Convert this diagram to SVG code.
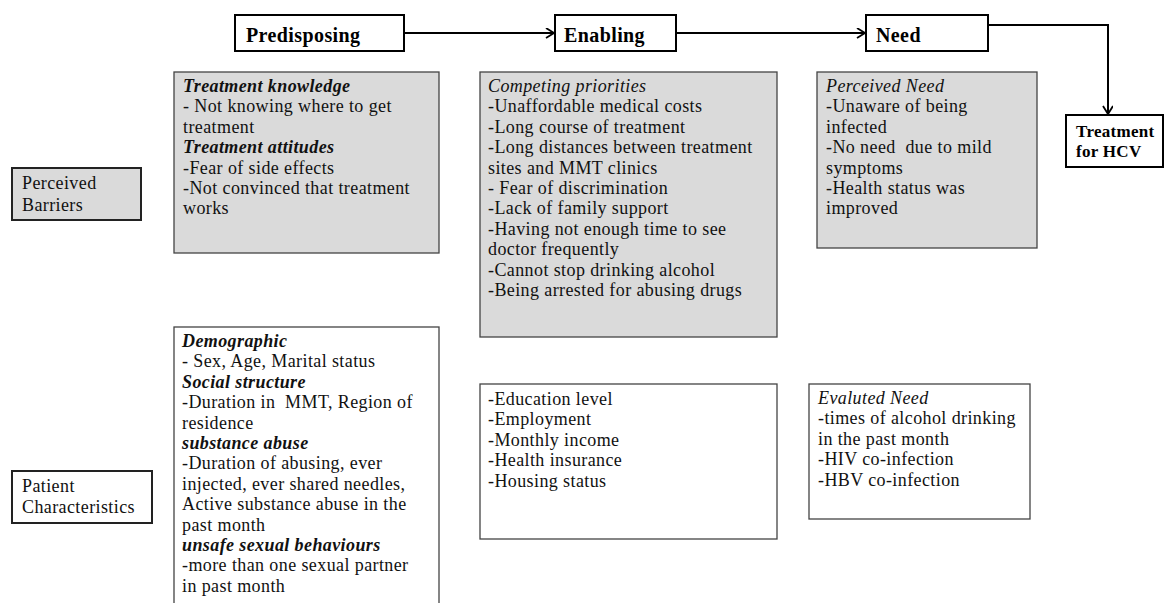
<svg xmlns="http://www.w3.org/2000/svg" width="1164" height="603" viewBox="0 0 1164 603">
<defs>
<style>
.t{font-family:"Liberation Serif","Times New Roman",serif;font-size:18px;fill:#111;letter-spacing:0.4px;white-space:pre}
.h{font-style:italic;font-weight:bold}
.i{font-style:italic}
.top{font-family:"Liberation Serif","Times New Roman",serif;font-size:20px;font-weight:bold;fill:#000;letter-spacing:0.4px}
.tb{font-family:"Liberation Serif","Times New Roman",serif;font-size:17px;font-weight:bold;fill:#000;letter-spacing:0.3px}
.gray{fill:#dadada;stroke:#444;stroke-width:1.3}
.white{fill:#fff;stroke:#444;stroke-width:1.3}
.hdr{fill:#fff;stroke:#000;stroke-width:2}
.lbl{fill:#dadada;stroke:#222;stroke-width:2}
.lblw{fill:#fff;stroke:#222;stroke-width:2}
.conn{fill:none;stroke:#000;stroke-width:2}
</style>
<marker id="arr" markerWidth="12" markerHeight="12" refX="9" refY="5" orient="auto" markerUnits="userSpaceOnUse">
<path d="M1,0 L9,5 L1,10" fill="none" stroke="#000" stroke-width="1.8"/>
</marker>
</defs>
<rect width="1164" height="603" fill="#fff"/>

<g id="connectors">
<line class="conn" x1="404" y1="33" x2="554" y2="33" marker-end="url(#arr)"/>
<line class="conn" x1="676" y1="33" x2="865" y2="33" marker-end="url(#arr)"/>
<polyline class="conn" points="988,25 1108,25 1108,114" marker-end="url(#arr)"/>
</g>

<g id="predisposing">
<rect class="hdr" x="235" y="15" width="169" height="36"/>
<text class="top" x="246" y="42">Predisposing</text>
</g>
<g id="enabling">
<rect class="hdr" x="555" y="15" width="121" height="36"/>
<text class="top" x="564" y="42">Enabling</text>
</g>
<g id="need">
<rect class="hdr" x="866" y="15" width="122" height="36"/>
<text class="top" x="876" y="42">Need</text>
</g>
<g id="treatment">
<rect class="hdr" x="1066" y="115" width="97" height="52"/>
<text class="tb" x="1076" y="137">Treatment</text>
<text class="tb" x="1076" y="157">for HCV</text>
</g>

<g id="perceived-barriers">
<rect class="lbl" x="12" y="168" width="129" height="52"/>
<text class="t" x="22" y="189">Perceived</text>
<text class="t" x="22" y="211">Barriers</text>
</g>
<g id="patient-characteristics">
<rect class="lblw" x="12" y="471" width="140" height="52"/>
<text class="t" x="22" y="492">Patient</text>
<text class="t" x="22" y="513">Characteristics</text>
</g>

<g id="predisposing-barriers">
<rect class="gray" x="174" y="72" width="265" height="181"/>
<text class="t h" x="183" y="92">Treatment knowledge</text>
<text class="t" x="183" y="112.4">- Not knowing where to get</text>
<text class="t" x="183" y="132.8">treatment</text>
<text class="t h" x="183" y="153.2">Treatment attitudes</text>
<text class="t" x="183" y="173.6">-Fear of side effects</text>
<text class="t" x="183" y="194">-Not convinced that treatment</text>
<text class="t" x="183" y="214.4">works</text>
</g>

<g id="enabling-barriers">
<rect class="gray" x="480" y="72" width="297" height="265"/>
<text class="t i" x="488" y="92">Competing priorities</text>
<text class="t" x="488" y="112.4">-Unaffordable medical costs</text>
<text class="t" x="488" y="132.8">-Long course of treatment</text>
<text class="t" x="488" y="153.2">-Long distances between treatment</text>
<text class="t" x="488" y="173.6">sites and MMT clinics</text>
<text class="t" x="488" y="194">- Fear of discrimination</text>
<text class="t" x="488" y="214.4">-Lack of family support</text>
<text class="t" x="488" y="234.8">-Having not enough time to see</text>
<text class="t" x="488" y="255.2">doctor frequently</text>
<text class="t" x="488" y="275.6">-Cannot stop drinking alcohol</text>
<text class="t" x="488" y="296">-Being arrested for abusing drugs</text>
</g>

<g id="need-barriers">
<rect class="gray" x="817" y="72" width="220" height="176"/>
<text class="t i" x="826" y="92">Perceived Need</text>
<text class="t" x="826" y="112.4">-Unaware of being</text>
<text class="t" x="826" y="132.8">infected</text>
<text class="t" x="826" y="153.2">-No need  due to mild</text>
<text class="t" x="826" y="173.6">symptoms</text>
<text class="t" x="826" y="194">-Health status was</text>
<text class="t" x="826" y="214.4">improved</text>
</g>

<g id="predisposing-characteristics">
<rect class="white" x="174" y="327" width="265" height="290"/>
<text class="t h" x="182" y="347">Demographic</text>
<text class="t" x="182" y="367.4">- Sex, Age, Marital status</text>
<text class="t h" x="182" y="387.8">Social structure</text>
<text class="t" x="182" y="408.2">-Duration in  MMT, Region of</text>
<text class="t" x="182" y="428.6">residence</text>
<text class="t h" x="182" y="449">substance abuse</text>
<text class="t" x="182" y="469.4">-Duration of abusing, ever</text>
<text class="t" x="182" y="489.8">injected, ever shared needles,</text>
<text class="t" x="182" y="510.2">Active substance abuse in the</text>
<text class="t" x="182" y="530.6">past month</text>
<text class="t h" x="182" y="551">unsafe sexual behaviours</text>
<text class="t" x="182" y="571.4">-more than one sexual partner</text>
<text class="t" x="182" y="591.8">in past month</text>
</g>

<g id="enabling-characteristics">
<rect class="white" x="480" y="384" width="297" height="155"/>
<text class="t" x="488" y="405">-Education level</text>
<text class="t" x="488" y="425.4">-Employment</text>
<text class="t" x="488" y="445.8">-Monthly income</text>
<text class="t" x="488" y="466.2">-Health insurance</text>
<text class="t" x="488" y="486.6">-Housing status</text>
</g>

<g id="need-characteristics">
<rect class="white" x="809" y="384" width="221" height="135"/>
<text class="t i" x="818" y="404">Evaluted Need</text>
<text class="t" x="818" y="424.4">-times of alcohol drinking</text>
<text class="t" x="818" y="444.8">in the past month</text>
<text class="t" x="818" y="465.2">-HIV co-infection</text>
<text class="t" x="818" y="485.6">-HBV co-infection</text>
</g>
</svg>
